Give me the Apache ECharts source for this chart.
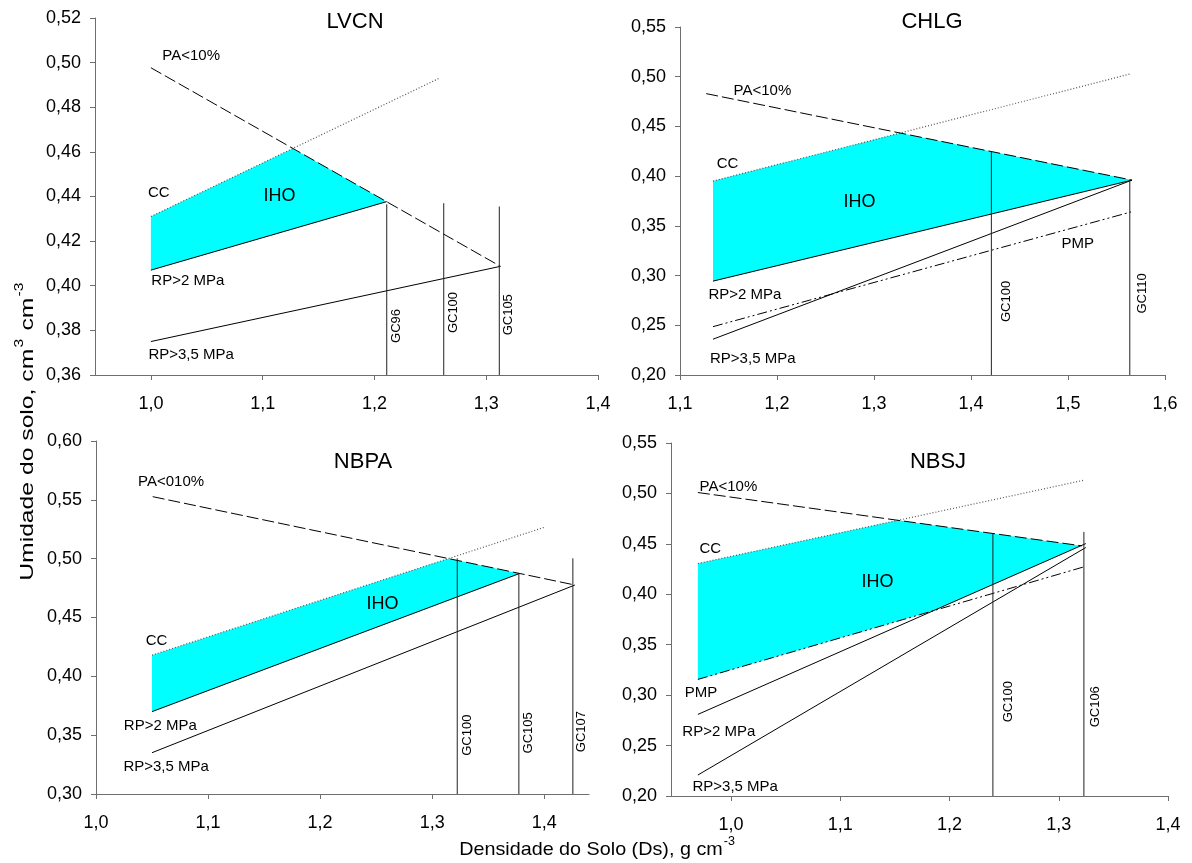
<!DOCTYPE html>
<html>
<head>
<meta charset="utf-8">
<script src="https://cdn.jsdelivr.net/npm/echarts@6/dist/echarts.min.js"></script>
<style>
  html, body { margin: 0; padding: 0; background: #ffffff; }
  #chart { width: 1192px; height: 863px; }
</style>
</head>
<body>
<div id="chart"></div>
<script>
// ---------- LVCN ----------
const lvcnCC   = [[1.000, 0.431], [1.258, 0.493]];
const lvcnPA   = [[1.000, 0.4977], [1.3127, 0.4087]];
const lvcnRP2  = [[1.000, 0.407], [1.211, 0.4377]];
const lvcnRP35 = [[1.000, 0.375], [1.3127, 0.4087]];
const lvcnGC   = [[1.211, 0.4365], [1.262, 0.437], [1.3117, 0.4355]];
const lvcnGCNames = ['GC96', 'GC100', 'GC105'];

// ---------- CHLG ----------
const chlgCC   = [[1.134, 0.395], [1.565, 0.503]];
const chlgPA   = [[1.127, 0.483], [1.566, 0.396]];
const chlgRP2  = [[1.134, 0.2944], [1.566, 0.396]];
const chlgRP35 = [[1.134, 0.236], [1.566, 0.396]];
const chlgPMP  = [[1.134, 0.2486], [1.565, 0.364]];
const chlgGC   = [[1.421, 0.4245], [1.5637, 0.396]];
const chlgGCNames = ['GC100', 'GC110'];

// ---------- NBPA ----------
const nbpaCC   = [[1.050, 0.418], [1.400, 0.5266]];
const nbpaPA   = [[1.0506, 0.5527], [1.4274, 0.4776]];
const nbpaRP2  = [[1.050, 0.370], [1.378, 0.4874]];
const nbpaRP35 = [[1.050, 0.3351], [1.4274, 0.4776]];
const nbpaGC   = [[1.3224, 0.5003], [1.3774, 0.487], [1.4256, 0.5003]];
const nbpaGCNames = ['GC100', 'GC105', 'GC107'];

// ---------- NBSJ ----------
const nbsjCC   = [[0.9696, 0.4305], [1.323, 0.5131]];
const nbsjPA   = [[0.9696, 0.5009], [1.3213, 0.448]];
const nbsjPMP  = [[0.9696, 0.3156], [1.323, 0.4272]];
const nbsjRP2  = [[0.9696, 0.2809], [1.3248, 0.4503]];
const nbsjRP35 = [[0.9696, 0.2208], [1.3248, 0.4464]];
const nbsjGC   = [[1.2397, 0.4602], [1.323, 0.4619]];
const nbsjGCNames = ['GC100', 'GC106'];

// ---------- axis ticks ----------
const lvcnXTicks = [1.0, 1.1, 1.2, 1.3, 1.4];
const chlgXTicks = [1.1, 1.2, 1.3, 1.4, 1.5, 1.6];
const nbpaXTicks = [1.0, 1.1, 1.2, 1.3, 1.4];
const nbsjXTicks = [1.0, 1.1, 1.2, 1.3, 1.4];

// ---------- annotation anchors (data coordinates) ----------
const lvcnNotes = [['PA<10%', 1.036, 0.503], ['CC', 1.007, 0.4417], ['IHO', 1.115, 0.440],
                   ['RP>2 MPa', 1.033, 0.402], ['RP>3,5 MPa', 1.036, 0.369]];
const lvcnGCLabelAt = [[1.220, 0.382], [1.271, 0.388], [1.320, 0.387]];
const chlgNotes = [['PA<10%', 1.185, 0.486], ['CC', 1.149, 0.412], ['IHO', 1.285, 0.374],
                   ['RP>2 MPa', 1.167, 0.281], ['RP>3,5 MPa', 1.175, 0.216], ['PMP', 1.510, 0.332]];
const chlgGCLabelAt = [[1.437, 0.274], [1.577, 0.282]];
const nbpaNotes = [['PA<010%', 1.067, 0.5654], ['CC', 1.054, 0.430], ['IHO', 1.2557, 0.4615],
                   ['RP>2 MPa', 1.0574, 0.3578], ['RP>3,5 MPa', 1.0626, 0.3227]];
const nbpaGCLabelAt = [[1.3316, 0.350], [1.3856, 0.352], [1.4328, 0.353]];
const nbsjNotes = [['PA<10%', 0.9976, 0.5065], ['CC', 0.981, 0.4447], ['IHO', 1.134, 0.4124],
                   ['PMP', 0.9724, 0.3024], ['RP>2 MPa', 0.9888, 0.2637], ['RP>3,5 MPa', 1.0038, 0.2092]];
const nbsjGCLabelAt = [[1.2537, 0.2935], [1.3335, 0.2885]];

const FONT = '"Liberation Sans", Arial, Helvetica, sans-serif';

// Panel definitions assembled from the arrays above
const panels = [
  { title: 'LVCN', grid: { left: 95, top: 18, width: 503, height: 357 }, titlePos: [355, 22],
    x: { min: 0.95, max: 1.4, ticks: lvcnXTicks }, y: { min: 0.36, max: 0.52, interval: 0.02 },
    cc: lvcnCC, pa: lvcnPA, rp2: lvcnRP2, rp35: lvcnRP35, pmp: null,
    lower: [lvcnRP2], gc: lvcnGC, gcNames: lvcnGCNames, gcLabelAt: lvcnGCLabelAt, notes: lvcnNotes },
  { title: 'CHLG', grid: { left: 680, top: 27, width: 485, height: 348 }, titlePos: [932, 22],
    x: { min: 1.1, max: 1.6, ticks: chlgXTicks }, y: { min: 0.20, max: 0.55, interval: 0.05 },
    cc: chlgCC, pa: chlgPA, rp2: chlgRP2, rp35: chlgRP35, pmp: chlgPMP,
    lower: [chlgRP2], gc: chlgGC, gcNames: chlgGCNames, gcLabelAt: chlgGCLabelAt, notes: chlgNotes },
  { title: 'NBPA', grid: { left: 96, top: 441, width: 493, height: 353 }, titlePos: [363, 462],
    x: { min: 1.0, max: 1.44, ticks: nbpaXTicks }, y: { min: 0.30, max: 0.60, interval: 0.05 },
    cc: nbpaCC, pa: nbpaPA, rp2: nbpaRP2, rp35: nbpaRP35, pmp: null,
    lower: [nbpaRP2], gc: nbpaGC, gcNames: nbpaGCNames, gcLabelAt: nbpaGCLabelAt, notes: nbpaNotes },
  { title: 'NBSJ', grid: { left: 671, top: 443, width: 497, height: 353 }, titlePos: [938, 462],
    x: { min: 0.945, max: 1.4, ticks: nbsjXTicks }, y: { min: 0.20, max: 0.55, interval: 0.05 },
    cc: nbsjCC, pa: nbsjPA, rp2: nbsjRP2, rp35: nbsjRP35, pmp: nbsjPMP,
    lower: [nbsjPMP, nbsjRP2], gc: nbsjGC, gcNames: nbsjGCNames, gcLabelAt: nbsjGCLabelAt, notes: nbsjNotes }
];

// y value of the straight line through a two-point segment
function lineY(s, x) {
  const [[x0, y0], [x1, y1]] = s;
  return y0 + (y1 - y0) * (x - x0) / (x1 - x0);
}

// Outline of the IHO region: below min(CC, PA), above max(lower limits)
function ihoPolygon(tops, bottoms, xStart) {
  const all = tops.concat(bottoms);
  const xs = [xStart];
  for (let i = 0; i < all.length; i++) {
    for (let j = i + 1; j < all.length; j++) {
      const a = all[i], b = all[j];
      const ma = (a[1][1] - a[0][1]) / (a[1][0] - a[0][0]);
      const mb = (b[1][1] - b[0][1]) / (b[1][0] - b[0][0]);
      if (Math.abs(ma - mb) < 1e-12) continue;
      const ca = a[0][1] - ma * a[0][0];
      const cb = b[0][1] - mb * b[0][0];
      const x = (cb - ca) / (ma - mb);
      if (x > xStart) xs.push(x);
    }
  }
  xs.sort((p, q) => p - q);
  const top = x => Math.min(...tops.map(s => lineY(s, x)));
  const bot = x => Math.max(...bottoms.map(s => lineY(s, x)));
  const upper = [], lower = [];
  for (const x of xs) {
    if (top(x) - bot(x) < -1e-9) break;
    upper.push([x, top(x)]);
    lower.push([x, bot(x)]);
  }
  return upper.concat(lower.reverse());
}

const fmt2 = v => v.toFixed(2).replace('.', ',');
const fmt1 = v => v.toFixed(1).replace('.', ',');

const AXIS_COLOR = '#6e6e6e';
const grids = [], xAxes = [], yAxes = [], series = [], graphics = [];

panels.forEach((p, i) => {
  grids.push(Object.assign({ containLabel: false, outerBoundsMode: 'none' }, p.grid));
  xAxes.push({
    gridIndex: i, type: 'value', min: p.x.min, max: p.x.max,
    axisLine: { show: true, onZero: false, lineStyle: { color: AXIS_COLOR, width: 1 } },
    axisTick: { show: true, customValues: p.x.ticks, length: 5, lineStyle: { color: AXIS_COLOR } },
    axisLabel: { customValues: p.x.ticks, formatter: fmt1, color: '#000', fontSize: 18, fontFamily: FONT, margin: 20 },
    splitLine: { show: false }
  });
  yAxes.push({
    gridIndex: i, type: 'value', min: p.y.min, max: p.y.max, interval: p.y.interval,
    axisLine: { show: true, onZero: false, lineStyle: { color: AXIS_COLOR, width: 1 } },
    axisTick: { show: true, length: 5, lineStyle: { color: AXIS_COLOR } },
    axisLabel: { formatter: fmt2, color: '#000', fontSize: 18, fontFamily: FONT, margin: 14 },
    splitLine: { show: false }
  });

  const base = { xAxisIndex: i, yAxisIndex: i, silent: true, animation: false };

  // IHO fill
  const poly = ihoPolygon([p.cc, p.pa], p.lower, p.cc[0][0]);
  series.push(Object.assign({}, base, {
    type: 'custom', z: 1, data: [poly[0]], clip: true,
    renderItem: (params, api) => ({
      type: 'polygon',
      shape: { points: poly.map(pt => api.coord(pt)) },
      style: { fill: '#00ffff', stroke: null }
    })
  }));

  const line = (data, lineStyle, z) => Object.assign({}, base, {
    type: 'line', data, symbol: 'none', z: z || 3, lineStyle
  });

  series.push(line(p.cc, { color: '#555', width: 1.2, type: [1, 2] }));
  series.push(line(p.pa, { color: '#000', width: 1, type: [12, 4] }));
  series.push(line(p.rp2, { color: '#000', width: 1 }));
  series.push(line(p.rp35, { color: '#000', width: 1 }));
  if (p.pmp) series.push(line(p.pmp, { color: '#000', width: 1, type: [10, 3, 2, 3, 2, 3] }));

  // vertical GC lines from the x axis up to their limits
  p.gc.forEach(g => series.push(line([[g[0], p.y.min], [g[0], g[1]]], { color: '#222', width: 1 }, 4)));

  // text annotations
  const notes = p.notes.map(n => ({ text: n[0], x: n[1], y: n[2], rot: 0 }))
    .concat(p.gcNames.map((name, k) => ({ text: name, x: p.gcLabelAt[k][0], y: p.gcLabelAt[k][1], rot: Math.PI / 2 })));
  series.push(Object.assign({}, base, {
    type: 'custom', z: 6, clip: false,
    data: notes.map(n => [n.x, n.y]),
    renderItem: (params, api) => {
      const n = notes[params.dataIndex];
      const pt = api.coord([n.x, n.y]);
      const isGC = n.rot !== 0;
      return {
        type: 'text', x: pt[0], y: pt[1], rotation: n.rot,
        style: {
          text: n.text, fill: '#000',
          font: (n.text === 'IHO' ? '18px ' : isGC ? '13px ' : '15px ') + FONT,
          align: 'center', verticalAlign: 'middle'
        }
      };
    }
  }));

  graphics.push({
    type: 'text', x: p.titlePos[0], y: p.titlePos[1],
    style: { text: p.title, font: '22px ' + FONT, fill: '#000', align: 'center', verticalAlign: 'middle' }
  });
});

// shared axis titles
graphics.push({
  type: 'text', x: 597, y: 849, scaleX: 1.04,
  style: {
    text: '{t|Densidade do Solo (Ds), g cm}{s|-3}', align: 'center', verticalAlign: 'middle',
    rich: {
      t: { font: '19px ' + FONT, fill: '#000', lineHeight: 20, verticalAlign: 'bottom' },
      s: { font: '12px ' + FONT, fill: '#000', lineHeight: 12, padding: [0, 0, 11, 1], verticalAlign: 'bottom' }
    }
  }
});
graphics.push({
  type: 'text', x: 27, y: 431, rotation: Math.PI / 2, scaleX: 1.3,
  style: {
    text: '{t|Umidade do solo, cm}{s|3}{t| cm}{s|-3}', align: 'center', verticalAlign: 'middle',
    rich: {
      t: { font: '19px ' + FONT, fill: '#000', lineHeight: 20, verticalAlign: 'bottom' },
      s: { font: '12px ' + FONT, fill: '#000', lineHeight: 12, padding: [0, 1, 11, 1], verticalAlign: 'bottom' }
    }
  }
});

const chart = echarts.init(document.getElementById('chart'), null, { renderer: 'canvas' });
chart.setOption({
  backgroundColor: '#ffffff',
  animation: false,
  grid: grids,
  xAxis: xAxes,
  yAxis: yAxes,
  series: series,
  graphic: graphics
});
</script>
</body>
</html>
